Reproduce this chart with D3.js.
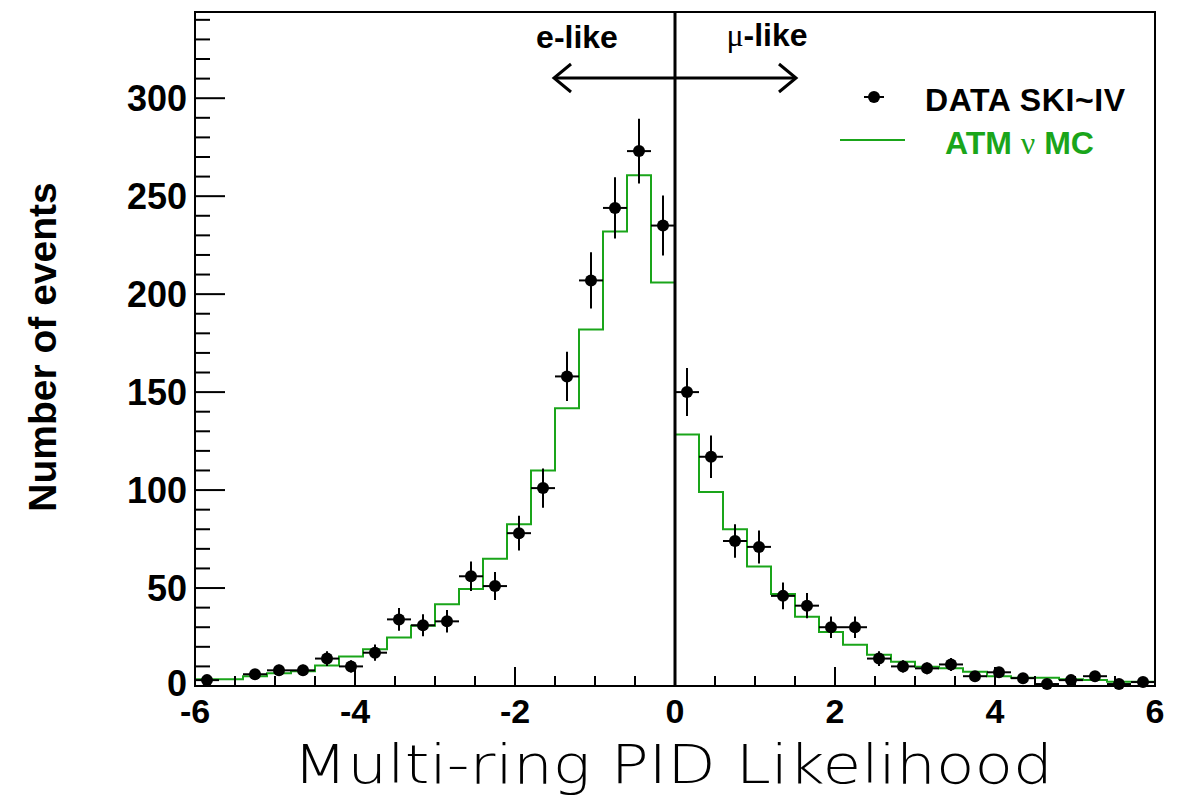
<!DOCTYPE html>
<html><head><meta charset="utf-8">
<script src="https://cdn.jsdelivr.net/npm/d3@7"></script>
<style>body{margin:0;background:#fff}svg{display:block}</style>
</head><body>
<script>
const binEdges = d3.range(41).map(i => -6 + i * 0.3);
const dataCounts = [3,0,6,8,8,14,10,17,34,31,33,56,51,78,101,158,207,244,273,235,
                    150,117,74,71,46,41,30,30,14,10,9,11,5,7,4,1,3,5,1,2];
const mcCounts = [3.4,3.4,5,6.5,7.5,10.4,15,18.7,24.7,30.8,41.7,49.5,65,82.5,110,141.7,182,232,260.7,206,
                  128.4,99,80,61,47,35.4,27.6,21,16,12.4,9.8,9,7.3,5,4.2,4.2,3.4,3,2.2,2.2];
const xTicks = [-6,-4,-2,0,2,4,6];
const yTicks = [0,50,100,150,200,250,300];

const W=1183,H=800;
const svg=d3.select("body").append("svg").attr("width",W).attr("height",H);
const L=195,R=1155,T=12,B=686;
const x=d3.scaleLinear().domain([-6,6]).range([L,R]);
const y=d3.scaleLinear().domain([0,344]).range([B,T]);
const font="'Liberation Sans', Arial, Helvetica, sans-serif";

const mcPts=[];
mcCounts.forEach((v,i)=>{mcPts.push([binEdges[i],v]);mcPts.push([binEdges[i+1],v]);});
svg.append("path").attr("d",d3.line().x(d=>x(d[0])).y(d=>y(d[1]))(mcPts))
  .attr("fill","none").attr("stroke","#1aa51a").attr("stroke-width",2);

svg.append("line").attr("x1",x(0)).attr("x2",x(0)).attr("y1",T).attr("y2",B).attr("stroke","#000").attr("stroke-width",3);

const g=svg.append("g");
dataCounts.forEach((v,i)=>{
  if(v<=0) return;
  const cx=x((binEdges[i]+binEdges[i+1])/2), e=Math.sqrt(v);
  g.append("line").attr("x1",x(binEdges[i])).attr("x2",x(binEdges[i+1])).attr("y1",y(v)).attr("y2",y(v)).attr("stroke","#000").attr("stroke-width",2);
  g.append("line").attr("x1",cx).attr("x2",cx).attr("y1",y(Math.max(0,v-e))).attr("y2",y(v+e)).attr("stroke","#000").attr("stroke-width",2);
  g.append("circle").attr("cx",cx).attr("cy",y(v)).attr("r",6).attr("fill","#000");
});

svg.append("rect").attr("x",L).attr("y",T).attr("width",R-L).attr("height",B-T).attr("fill","none").attr("stroke","#000").attr("stroke-width",2);

for(let v=0;v<=340;v+=10){
  const major=v%50===0;
  svg.append("line").attr("x1",L).attr("x2",L+(major?30:15)).attr("y1",y(v)).attr("y2",y(v)).attr("stroke","#000").attr("stroke-width",2);
}
yTicks.forEach(v=>svg.append("text").attr("x",L-8).attr("y",y(v)).attr("dy",v===0?"0.28em":"0.36em").attr("text-anchor","end")
  .attr("font-family",font).attr("font-weight","bold").attr("font-size",36).text(v));
for(let v=-6;v<=6.001;v+=0.5){
  const major=Math.abs(v%2)<1e-6;
  svg.append("line").attr("x1",x(v)).attr("x2",x(v)).attr("y1",B).attr("y2",B-(major?19:10)).attr("stroke","#000").attr("stroke-width",2);
}
xTicks.forEach(v=>svg.append("text").attr("x",x(v)).attr("y",B+37).attr("text-anchor","middle")
  .attr("font-family",font).attr("font-weight","bold").attr("font-size",34).text(v));

svg.append("text").attr("transform","translate(56,347) rotate(-90)").attr("text-anchor","middle")
  .attr("font-family",font).attr("font-weight","bold").attr("font-size",39).text("Number of events");
svg.append("text").attr("x",673).attr("y",783).attr("text-anchor","middle")
  .attr("font-family","'DejaVu Sans', sans-serif").attr("font-weight","300").attr("font-size",54).attr("textLength",760).attr("lengthAdjust","spacingAndGlyphs").text("Multi-ring PID Likelihood");

svg.append("text").attr("x",577).attr("y",48).attr("text-anchor","middle").attr("font-family",font).attr("font-weight","bold").attr("font-size",32).text("e-like");
const mu=svg.append("text").attr("x",767).attr("y",46).attr("text-anchor","middle").attr("font-family",font).attr("font-size",32);
mu.append("tspan").attr("font-family","'Liberation Serif', serif").text("μ");
mu.append("tspan").attr("font-weight","bold").text("-like");
svg.append("line").attr("x1",554).attr("x2",796).attr("y1",78).attr("y2",78).attr("stroke","#000").attr("stroke-width",3);
svg.append("path").attr("d","M571,64 L554,78 L571,92 M779,64 L796,78 L779,92").attr("fill","none").attr("stroke","#000").attr("stroke-width",3);

svg.append("line").attr("x1",864).attr("x2",884).attr("y1",97).attr("y2",97).attr("stroke","#000").attr("stroke-width",2);
svg.append("circle").attr("cx",874).attr("cy",97).attr("r",6).attr("fill","#000");
svg.append("text").attr("x",925).attr("y",111).attr("font-family",font).attr("font-weight","bold").attr("font-size",32).attr("textLength",200).text("DATA SKI~IV");
svg.append("line").attr("x1",840).attr("x2",905).attr("y1",140).attr("y2",140).attr("stroke","#1aa51a").attr("stroke-width",2);
const lg=svg.append("text").attr("x",945).attr("y",154).attr("font-family",font).attr("font-weight","bold").attr("font-size",32).attr("fill","#1aa51a");
lg.append("tspan").text("ATM ");
lg.append("tspan").attr("font-family","'Liberation Serif', serif").attr("font-weight","normal").text("ν");
lg.append("tspan").text(" MC");
</script>
</body></html>
